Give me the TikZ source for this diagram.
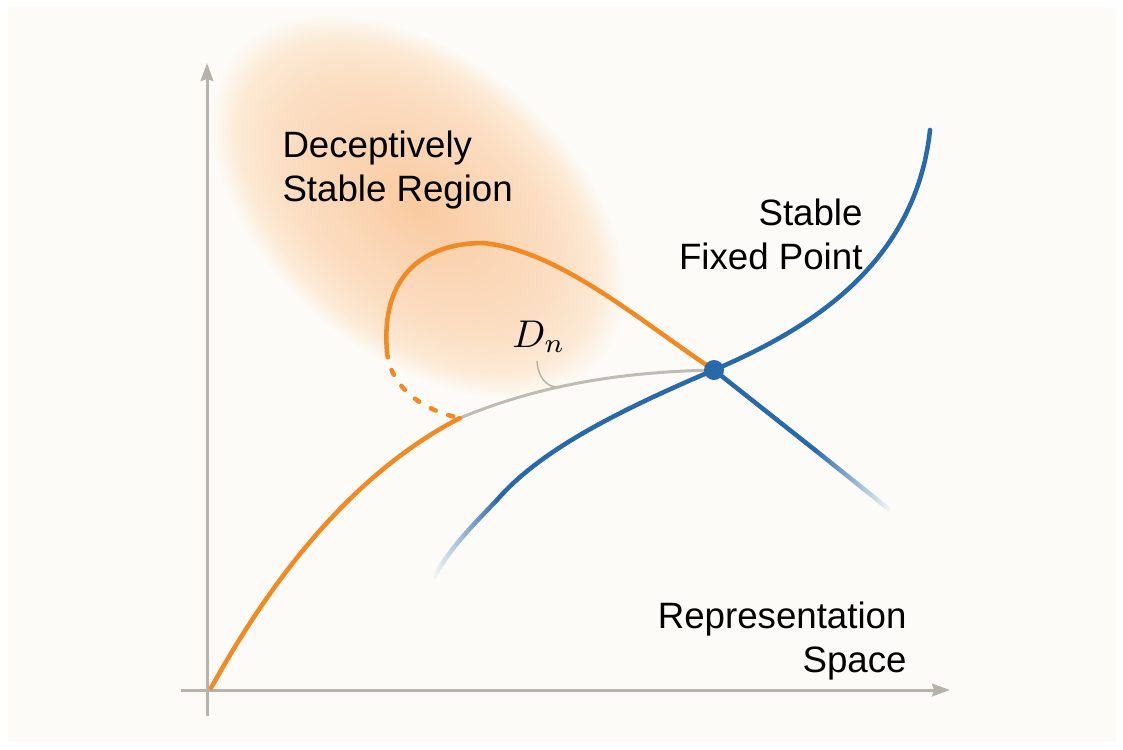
\documentclass[tikz,border=0pt]{standalone}
\usepackage{fontspec}
\setmainfont{Liberation Sans}
\usetikzlibrary{arrows.meta,fadings}

\definecolor{panelbg}{RGB}{252,251,247}
\definecolor{axisgray}{RGB}{183,179,170}
\definecolor{curvegray}{RGB}{192,188,180}
\definecolor{orangeline}{RGB}{242,138,36}
\definecolor{blueline}{RGB}{40,105,170}
\definecolor{blobcore}{RGB}{250,202,160}
\definecolor{blobin}{RGB}{250,211,176}
\definecolor{blobmid}{RGB}{251,222,195}
\definecolor{blobedge}{RGB}{252,233,212}

% radial stops: path edge sits at 25bp
\pgfdeclareradialshading{blobshade}{\pgfpoint{0bp}{0bp}}{%
  color(0bp)=(blobcore); color(7bp)=(blobin); color(16.5bp)=(blobmid);
  color(21.5bp)=(blobedge); color(25bp)=(panelbg); color(50bp)=(panelbg)}

\tikzfading[name=fade in east, left color=transparent!100, right color=transparent!0]
\tikzfading[name=fade out east, left color=transparent!0, right color=transparent!100]

\tikzset{every picture/.style={line width=0.75pt}}
\tikzset{
  axis/.style={color=axisgray, line width=2.25pt, -{Stealth[length=13.5pt, width=9.5pt, inset=1.5pt]}},
  orangecurve/.style={color=orangeline, line width=3.4pt, line cap=round},
  bluecurve/.style={color=blueline, line width=3.4pt, line cap=round},
  lbl/.style={inner sep=0pt, font=\fontsize{27.5}{33}\selectfont},
  fixdot/.style={circle, fill=blueline, minimum size=15pt, inner sep=0pt}
}

\begin{document}
\begin{tikzpicture}[x=0.75pt,y=0.75pt,yscale=-1,xscale=1]
\useasboundingbox (0,0) rectangle (1123,749);

%Shape: Rectangle [panel]
\fill[white] (0,0) rectangle (1123,749);
\fill[panelbg] (8,7) rectangle (1116,742);

%Shape: Ellipse [deceptively stable region]
\begin{scope}[transform canvas={shift={(418,-206)}, rotate=-40}]
  \shade[shading=blobshade] (0,0) ellipse (240 and 150);
\end{scope}

%Coordinates
\coordinate (o0) at (211,688);
\coordinate (split) at (460,418);
\coordinate (loopend) at (387,352);
\coordinate (top) at (483,243);
\coordinate (fp) at (714,370);
\coordinate (b0) at (434,577);
\coordinate (b1) at (497,500);
\coordinate (btop) at (930,130);
\coordinate (bfade) at (815,450);
\coordinate (bend) at (890,510);
\coordinate (hook) at (537,361);
\coordinate (hookend) at (556,387);

%Straight Lines [axes]
\draw[axis] (207,716) -- (207,63);
\draw[axis] (181,690) -- (950,690);

%Curve Lines [gray path]
\draw[color=curvegray, line width=2.25pt] (split) .. controls (540,385) and (620,372) .. (fp);
\draw[color=axisgray, line width=1.1pt] (hook) .. controls (538,377) and (546,386) .. (hookend);

%Curve Lines [orange]
\draw[orangecurve] (o0) .. controls (260,600) and (340,480) .. (split);
\draw[orangecurve, dash pattern=on 4pt off 10pt] (loopend) .. controls (390,385) and (420,410) .. (split);
\draw[orangecurve] (loopend) .. controls (380,270) and (430,243) .. (top) .. controls (560,250) and (645,325) .. (fp);

%Curve Lines [blue]
\draw[bluecurve, path fading=fade in east] (b0) .. controls (450,548) and (472,526) .. (b1);
\draw[bluecurve] (b1) .. controls (540,450) and (620,410) .. (fp) .. controls (800,333) and (915,270) .. (btop);
\draw[bluecurve] (fp) -- (bfade);
\draw[bluecurve, line cap=butt, path fading=fade out east] (bfade) -- (bend);

% Fixed point
\node[fixdot] (fpdot) at (fp) {};

% Text Node
\node[lbl, anchor=north west, align=left] (dsr) at (282,130) {Deceptively\\Stable Region};
% Text Node
\node[lbl, anchor=north east, align=right] (sfp) at (863,198) {Stable\\Fixed Point};
% Text Node
\node[lbl, anchor=north east, align=right] (rs) at (907,601) {Representation\\Space};
% Text Node
\node[anchor=base west, inner sep=0pt, scale=2.9] (dn) at (511,347) {$D_n$};

\end{tikzpicture}
\end{document}
